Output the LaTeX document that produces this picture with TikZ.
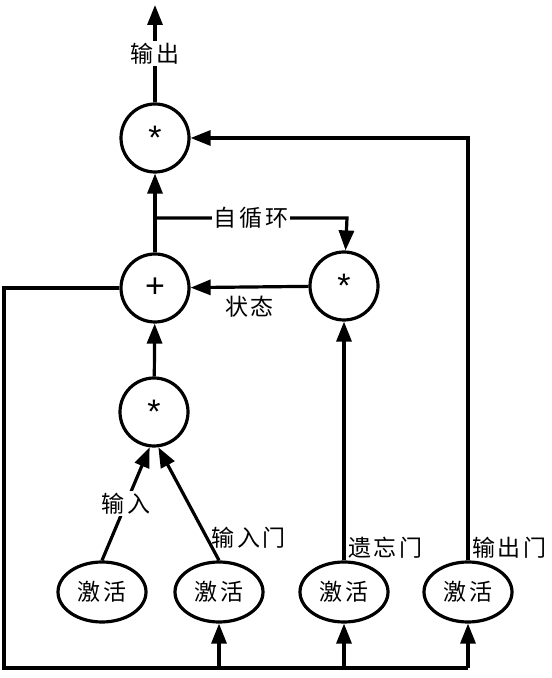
\documentclass[tikz,border=0pt]{standalone}
\usepackage{fontspec}
\setsansfont{Liberation Sans}
\newfontfamily\cjk[LetterSpace=12]{Noto Sans CJK SC}
\usetikzlibrary{arrows.meta,shapes.geometric,positioning}
\tikzset{
  op/.style={circle,draw,line width=3.2bp,minimum size=68bp,inner sep=0pt,font=\fontsize{34bp}{34bp}\sffamily},
  act/.style={ellipse,draw,line width=3.2bp,minimum width=88bp,minimum height=60bp,inner sep=0pt,font=\fontsize{23bp}{26bp}\cjk},
  lbl/.style={font=\fontsize{23bp}{26bp}\cjk,inner sep=2bp},
  arr/.style={line width=3.2bp,-{Triangle[length=20bp,width=15bp]}},
  ln/.style={line width=3.2bp},
}
\begin{document}
\begin{tikzpicture}[x=1bp,y=1bp]
    \useasboundingbox (0,0) rectangle (552,678);
    \node[op] (outmul) at (155,540) {*};
    \node[op] (add) at (155,390) {+};
    \node[op] (fmul) at (344,392) {*};
    \node[op] (inmul) at (154,266) {*};
    \node[act] (act1) at (102,86) {激活};
    \node[act] (act2) at (219,86) {激活};
    \node[act] (act3) at (344,86) {激活};
    \node[act] (act4) at (468,86) {激活};
    \coordinate (top) at (155,673);
    \coordinate (loop) at (347,460);
    \coordinate (bl) at (4,10);
    \coordinate (br) at (468,10);

    \draw[arr] (outmul) -- node[lbl,fill=white] (outlbl) {输出} (top);
    \draw[arr] (add) -- (outmul);
    \draw[arr] (add.north |- loop) -- node[lbl,fill=white] (looplbl) {自循环} (loop) -- (fmul);
    \draw[arr] (fmul) -- node[lbl,below=5bp] (statelbl) {状态} (add);
    \draw[arr] (inmul) -- (add);
    \draw[arr] (act1.north) -- node[lbl,fill=white] (inlbl) {输入} (inmul.-97);
    \draw[arr] (act2.north) -- node[lbl,pos=0.2,anchor=west,xshift=1bp] (inglbl) {输入门} (inmul.-83);
    \draw[arr] (act3.north) -- (fmul);
    \node[lbl,anchor=south west,xshift=2bp] (fglbl) at (act3.north) {遗忘门};
    \draw[arr] (act4.north) |- (outmul);
    \node[lbl,anchor=south west,xshift=2bp] (oglbl) at (act4.north) {输出门};

    \draw[ln] (add.west) -| (bl) -- (br);
    \foreach \n in {act2,act3,act4}
      \draw[arr] (\n |- bl) -- (\n.south);
\end{tikzpicture}
\end{document}
